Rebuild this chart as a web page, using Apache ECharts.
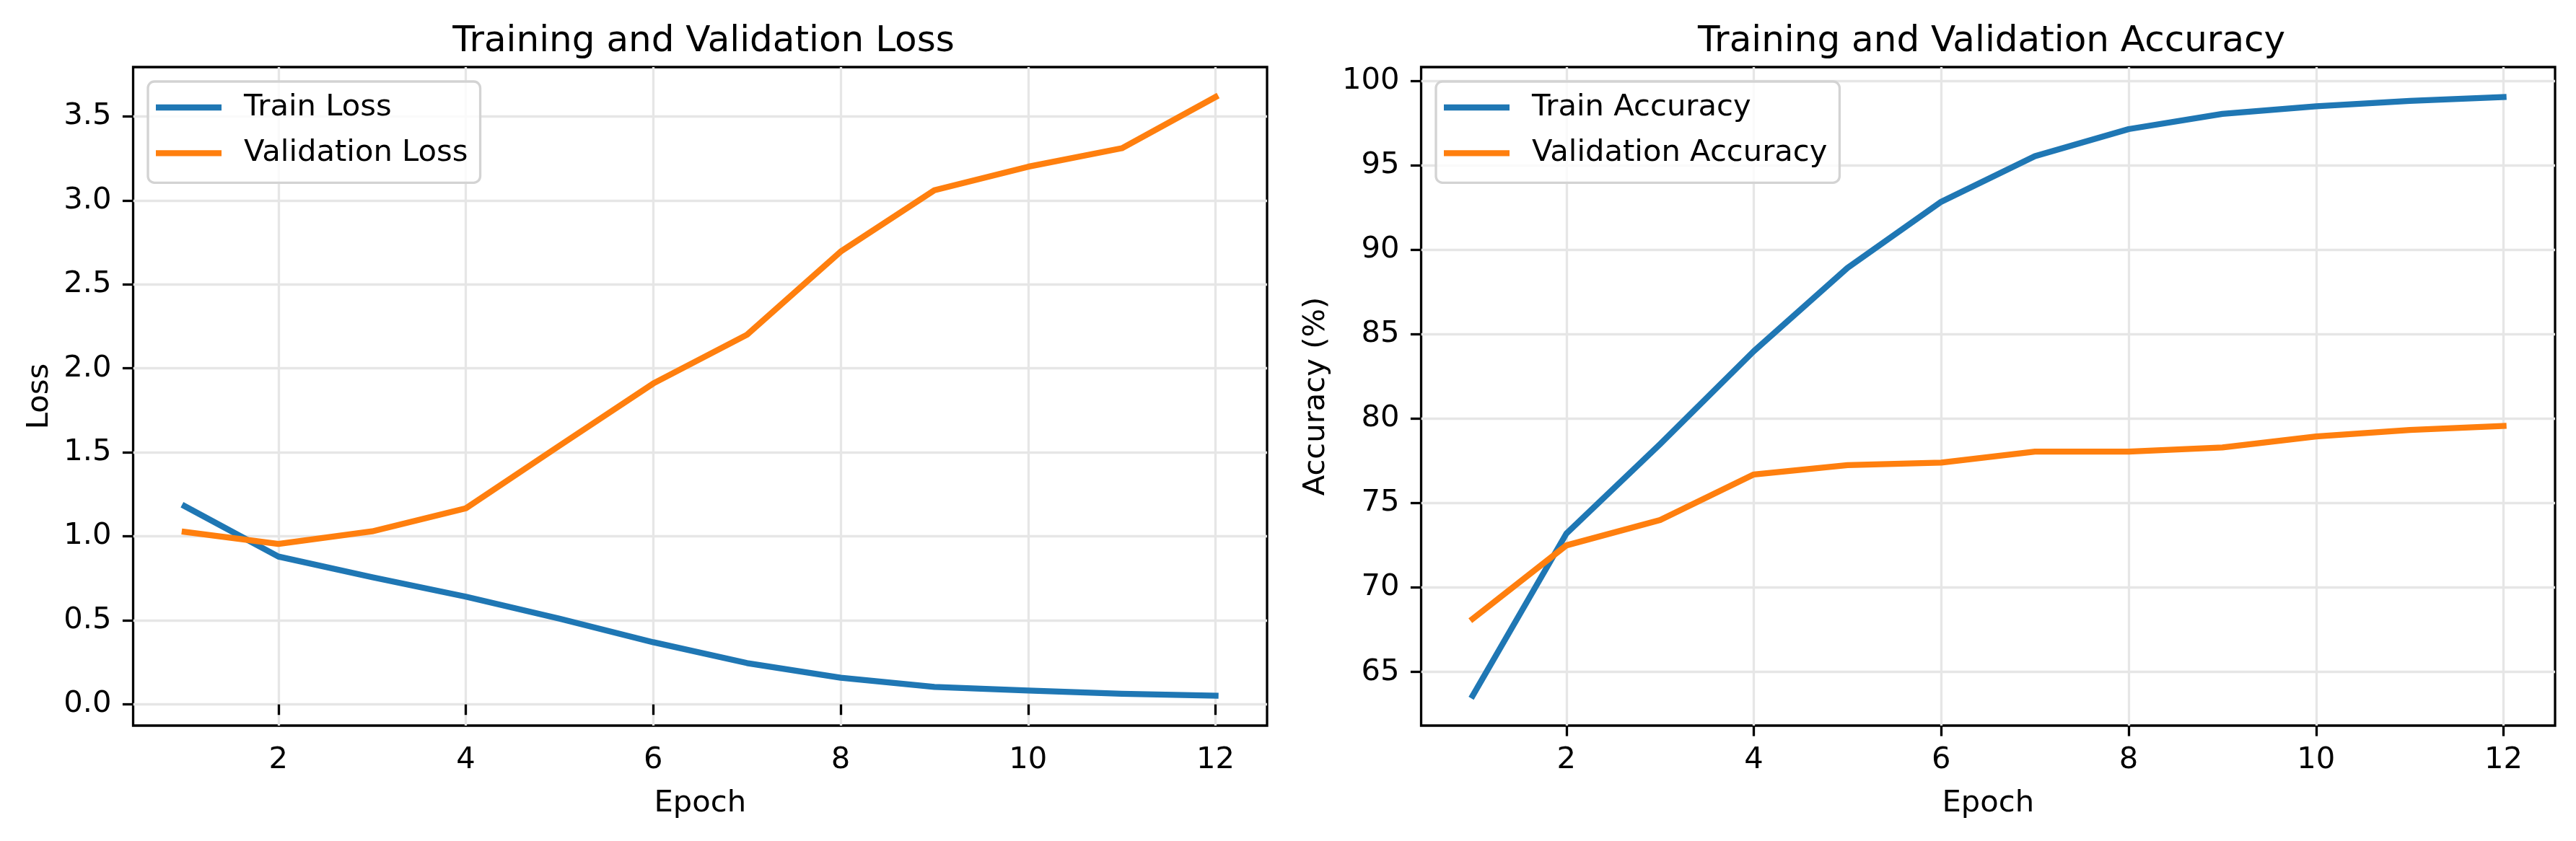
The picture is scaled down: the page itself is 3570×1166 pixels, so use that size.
<!DOCTYPE html>
<html>
<head>
<meta charset="utf-8">
<script src="https://cdn.jsdelivr.net/npm/echarts@6/dist/echarts.min.js"></script>
<style>
html,body{margin:0;padding:0;background:#fff;}
#chart{width:3570px;height:1166px;}
</style>
</head>
<body>
<div id="chart"></div>
<script>
// ---- data ----
const epochs = [1, 2, 3, 4, 5, 6, 7, 8, 9, 10, 11, 12];
const trainLoss = [1.18, 0.88, 0.757, 0.641, 0.51, 0.37, 0.246, 0.159, 0.104, 0.083, 0.063, 0.052];
const valLoss = [1.027, 0.955, 1.03, 1.167, 1.54, 1.91, 2.20, 2.695, 3.06, 3.20, 3.31, 3.615];
const trainAcc = [63.6, 73.2, 78.5, 84.0, 88.93, 92.85, 95.55, 97.15, 98.05, 98.5, 98.82, 99.05];
const valAcc = [68.15, 72.5, 74.0, 76.7, 77.25, 77.4, 78.05, 78.05, 78.3, 78.95, 79.33, 79.57];
const xTicks = [2, 4, 6, 8, 10, 12];
const lossTicks = [0.0, 0.5, 1.0, 1.5, 2.0, 2.5, 3.0, 3.5];
const accTicks = [65, 70, 75, 80, 85, 90, 95, 100];
const titles = ['Training and Validation Loss', 'Training and Validation Accuracy'];
const lossNames = ['Train Loss', 'Validation Loss'];
const accNames = ['Train Accuracy', 'Validation Accuracy'];

// ---- helpers ----
function pad(arrs) {
  const all = [].concat(...arrs);
  const lo = Math.min(...all), hi = Math.max(...all);
  const m = (hi - lo) * 0.05;
  return [lo - m, hi + m];
}
const xLim = pad([epochs]);
const lossLim = pad([trainLoss, valLoss]);
const accLim = pad([trainAcc, valAcc]);

const FONT = 'DejaVu Sans';
const FS = 41.7;
const BLUE = '#1f77b4', ORANGE = '#ff7f0e';
const GRIDC = '#e6e6e6';

const gridW = 1571.5, gridH = 913, gridTop = 93;
const grids = [
  {left: 184.5, top: gridTop, width: gridW, height: gridH},
  {left: 1969.5, top: gridTop, width: gridW, height: gridH}
].map(g => Object.assign(g, {show: true, borderColor: '#000', borderWidth: 3.3, backgroundColor: 'transparent', containLabel: false}));

function xAxis(i) {
  return {
    gridIndex: i, type: 'value', min: xLim[0], max: xLim[1],
    axisLine: {show: false},
    axisTick: {show: true, length: 14.6, lineStyle: {width: 3.3, color: '#000'}, customValues: xTicks},
    axisLabel: {customValues: xTicks, margin: 27, fontSize: FS, color: '#000', fontFamily: FONT},
    splitLine: {show: true, lineStyle: {color: GRIDC, width: 3.3}},
    name: 'Epoch', nameLocation: 'middle', nameGap: 87,
    nameTextStyle: {fontSize: FS, color: '#000', fontFamily: FONT}
  };
}
function yAxis(i, lim, ticks, name, gap, fmt) {
  return {
    gridIndex: i, type: 'value', min: lim[0], max: lim[1],
    axisLine: {show: false},
    axisTick: {show: true, length: 14.6, lineStyle: {width: 3.3, color: '#000'}, customValues: ticks},
    axisLabel: {customValues: ticks, margin: 30, fontSize: FS, color: '#000', fontFamily: FONT, formatter: fmt},
    splitLine: {show: true, lineStyle: {color: GRIDC, width: 3.3}},
    name: name, nameLocation: 'middle', nameGap: gap, nameRotate: 90,
    nameTextStyle: {fontSize: FS, color: '#000', fontFamily: FONT}
  };
}
function series(name, data, color, i) {
  return {
    name: name, type: 'line', xAxisIndex: i, yAxisIndex: i,
    data: epochs.map((e, k) => [e, data[k]]),
    showSymbol: false, symbol: 'none', smooth: false, silent: true, animation: false,
    lineStyle: {color: color, width: 8.3, cap: 'square', join: 'round'},
    itemStyle: {color: color}
  };
}
function legend(left, names) {
  return {
    orient: 'vertical', left: left, top: 113,
    data: names, icon: 'rect', itemWidth: 91, itemHeight: 8.3, itemGap: 13.3,
    padding: [11, 17, 16, 11],
    backgroundColor: 'rgba(255,255,255,0.8)', borderColor: '#d3d3d3', borderWidth: 3.3, borderRadius: 9,
    textStyle: {fontSize: FS, color: '#000', fontFamily: FONT, lineHeight: 50, padding: [0, 0, 0, 26]},
    selectedMode: false
  };
}

const option = {
  animation: false,
  backgroundColor: '#fff',
  title: [
    {text: titles[0], left: 970, top: 28, textAlign: 'center', textStyle: {fontSize: 50, fontWeight: 'normal', color: '#000', fontFamily: FONT}},
    {text: titles[1], left: 2755, top: 28, textAlign: 'center', textStyle: {fontSize: 50, fontWeight: 'normal', color: '#000', fontFamily: FONT}}
  ],
  grid: grids,
  legend: [legend(205, lossNames), legend(1990, accNames)],
  xAxis: [xAxis(0), xAxis(1)],
  yAxis: [
    yAxis(0, lossLim, lossTicks, 'Loss', 108, v => v.toFixed(1)),
    yAxis(1, accLim, accTicks, 'Accuracy (%)', 124, v => String(Math.round(v)))
  ],
  series: [
    series(lossNames[0], trainLoss, BLUE, 0),
    series(lossNames[1], valLoss, ORANGE, 0),
    series(accNames[0], trainAcc, BLUE, 1),
    series(accNames[1], valAcc, ORANGE, 1)
  ]
};
const chart = echarts.init(document.getElementById('chart'), null, {renderer: 'canvas'});
chart.setOption(option);
</script>
</body>
</html>
